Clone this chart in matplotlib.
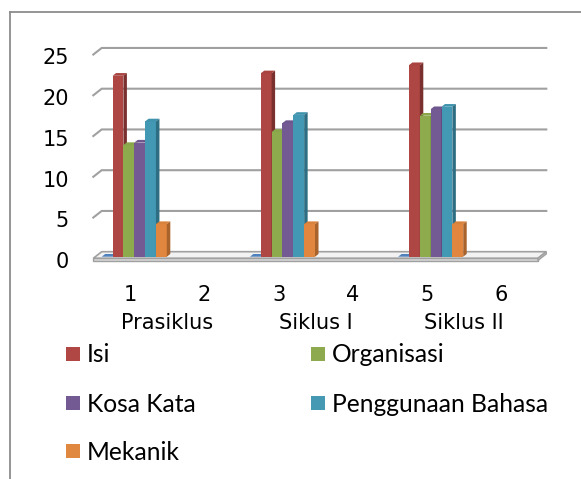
import numpy as np
import matplotlib
matplotlib.use('Agg')
import matplotlib.pyplot as plt
from matplotlib.patches import Polygon, Rectangle
from matplotlib.lines import Line2D

# ---------------- data ----------------
categories = ['1', '2', '3', '4', '5', '6']
group_labels = ['Prasiklus', 'Siklus I', 'Siklus II']
nan = np.nan
base_series = [0, nan, 0, nan, 0, nan]          # unnamed flat series
isi = [22.2, nan, 22.5, nan, 23.5, nan]
organisasi = [13.7, nan, 15.3, nan, 17.3, nan]
kosa_kata = [14.0, nan, 16.4, nan, 18.1, nan]
penggunaan = [16.6, nan, 17.4, nan, 18.4, nan]
mekanik = [4.0, nan, 4.0, nan, 4.0, nan]
series_names = ['Isi', 'Organisasi', 'Kosa Kata', 'Penggunaan Bahasa', 'Mekanik']
yticks = [0, 5, 10, 15, 20, 25]

# ---------------- styles ----------------
front_cols = ['#3F6FA8', '#AE4744', '#8DAA4D', '#735A93', '#4398B3', '#E0863E']
top_cols   = ['#4F81BD', '#A84340', '#8AA64B', '#6E568E', '#3F93AD', '#D9823B']
side_cols  = ['#2C4F7A', '#7A302E', '#677D37', '#52406C', '#2E6E83', '#A8622B']
legend_cols = ['#B04745', '#8EAA4E', '#735A93', '#4599B2', '#E0883F']

W, H = 581, 479
fig = plt.figure(figsize=(W / 100, H / 100), dpi=100)
ax = fig.add_axes([0, 0, 1, 1])

X0, SLOT, Y0, UNIT = 93.3, 74.1, 258.3, 8.15
ax.set_xlim(0.5 - X0 / SLOT, 0.5 + (W - X0) / SLOT)
ax.set_ylim((Y0 - H) / UNIT, Y0 / UNIT)
ax.axis('off')

px_x = lambda p: p / SLOT
px_y = lambda p: p / UNIT

WX, WY = px_x(8.4), px_y(6.6)        # back wall offset
BX, BY = px_x(2.0), px_y(1.6)        # bar plane offset
DX, DY = px_x(3.5), px_y(2.7)        # bar depth
BW = px_x(10.85)
G0 = px_x(6.4)
grid_col = '#A0A0A0'

# gridlines on back wall
for v in yticks[1:]:
    ax.plot([0.5, 0.5 + WX, 6.5 + WX], [v, v + WY, v + WY], color=grid_col,
            lw=1.5, zorder=1, solid_joinstyle='miter')

# floor slab
t = px_y(2.2)
ax.add_patch(Polygon([(0.5, 0), (6.5, 0), (6.5 + WX, WY), (0.5 + WX, WY)],
                     closed=True, facecolor='#F2F2F2', edgecolor=grid_col, lw=1.2, zorder=1.5))
ax.add_patch(Polygon([(0.5, 0), (6.5, 0), (6.5, -t), (0.5, -t)],
                     closed=True, facecolor='#D6D6D6', edgecolor=grid_col, lw=1.0, zorder=1.5))
ax.add_patch(Polygon([(6.5, 0), (6.5 + WX, WY), (6.5 + WX, WY - t), (6.5, -t)],
                     closed=True, facecolor='#C8C8C8', edgecolor=grid_col, lw=1.0, zorder=1.5))

# bars
all_series = [base_series, isi, organisasi, kosa_kata, penggunaan, mekanik]
xpos = np.arange(1, len(categories) + 1)
for k, vals in enumerate(all_series):
    vals = np.array(vals, dtype=float)
    mask = ~np.isnan(vals)
    lefts = xpos[mask] - 0.5 + G0 + k * BW + BX
    hs = vals[mask]
    z = 3 + k * 0.1
    ax.bar(lefts, hs, width=BW, bottom=BY, align='edge', color=front_cols[k],
           linewidth=0, zorder=z)
    for l, h in zip(lefts, hs):
        ax.add_patch(Polygon([(l, BY + h), (l + BW, BY + h), (l + BW + DX, BY + h + DY),
                              (l + DX, BY + h + DY)], closed=True,
                             facecolor=top_cols[k], edgecolor='none', zorder=z))
        ax.add_patch(Polygon([(l + BW, BY), (l + BW + DX, BY + DY), (l + BW + DX, BY + h + DY),
                              (l + BW, BY + h)], closed=True,
                             facecolor=side_cols[k], edgecolor='none', zorder=z))

# axis labels
afont = dict(family='DejaVu Sans', fontsize=15, color='#000000')
xl = 0.5 + (69 - X0) / SLOT
for v in yticks:
    ax.text(xl, v - px_y(9.8), str(v), ha='right', va='baseline', **afont)
for c, lab in zip(xpos, categories):
    ax.text(c, (Y0 - 301) / UNIT, lab, ha='center', va='baseline', **afont)
for i, g in enumerate(group_labels):
    ax.text(2 * i + 1.5, (Y0 - 329) / UNIT, g, ha='center', va='baseline', **afont)

# legend (manual, Excel row-major order)
leg_pos = [(66, 354), (311, 354), (66, 403), (311, 403), (66, 451)]
texts = []
for (lx, ly), name, col in zip(leg_pos, series_names, legend_cols):
    fig.add_artist(Rectangle((lx / W, 1 - (ly + 7) / H), 14 / W, 14 / H,
                             transform=fig.transFigure, facecolor=col, edgecolor='none'))
    texts.append(fig.text((lx + 21) / W, 1 - (ly + 8.5) / H, name, ha='left',
                          va='baseline', family='Lato', fontsize=18, color='#000000'))
fig.canvas.draw()
r = fig.canvas.get_renderer()
wpx = texts[3].get_window_extent(r).width
for tt in texts:
    tt.set_fontsize(18 * 216 / wpx)

# outer border (left and top visible)
fig.add_artist(Line2D([10 / W, 10 / W], [0, 1 - 12 / H], transform=fig.transFigure,
                      color='#8C8C8C', lw=1.3))
fig.add_artist(Line2D([10 / W, 1], [1 - 12 / H, 1 - 12 / H], transform=fig.transFigure,
                      color='#8C8C8C', lw=1.3))

fig.savefig('out.png', dpi=100)
